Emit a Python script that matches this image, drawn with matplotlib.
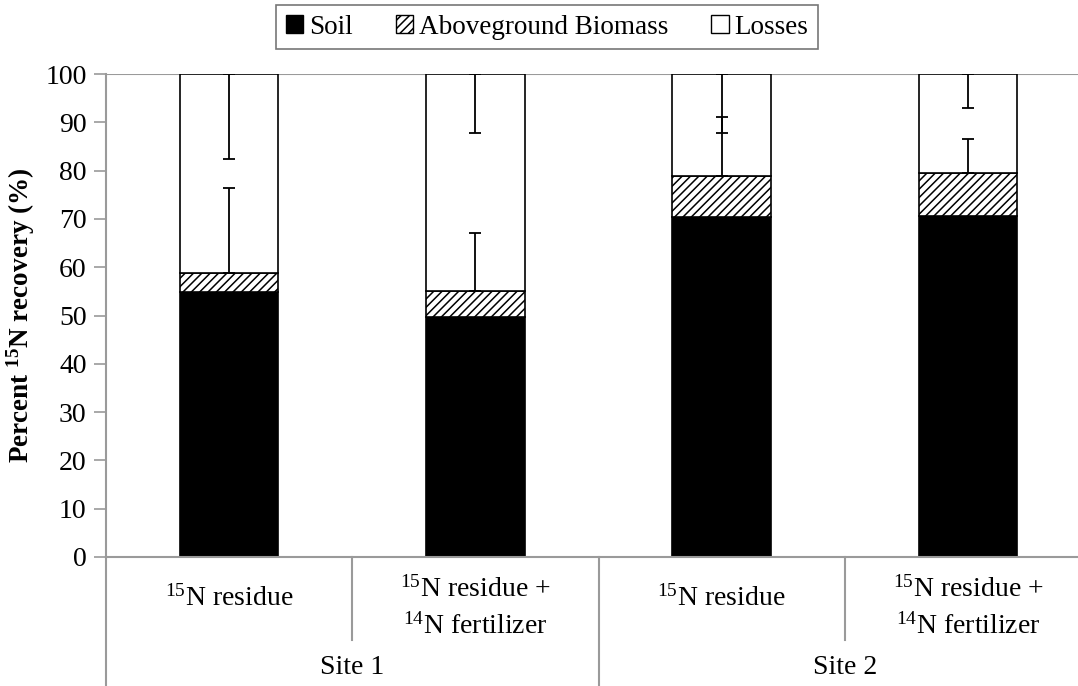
import numpy as np
import matplotlib
matplotlib.use("Agg")
import matplotlib.pyplot as plt
from matplotlib.patches import Patch

plt.rcParams['font.family'] = ['Liberation Serif', 'DejaVu Serif']
plt.rcParams['mathtext.fontset'] = 'custom'
plt.rcParams['mathtext.rm'] = 'Liberation Serif'
plt.rcParams['mathtext.bf'] = 'Liberation Serif:bold'
plt.rcParams['hatch.linewidth'] = 1.1

# data (percent 15N recovery)
treatments = [r'$\mathregular{^{15}}$N residue',
              r'$\mathregular{^{15}}$N residue +' + '\n' + r'$\mathregular{^{14}}$N fertilizer',
              r'$\mathregular{^{15}}$N residue',
              r'$\mathregular{^{15}}$N residue +' + '\n' + r'$\mathregular{^{14}}$N fertilizer']
sites = ['Site 1', 'Site 2']
soil = np.array([54.8, 49.7, 70.3, 70.5])
biomass = np.array([4.1, 5.4, 8.6, 9.0])
losses = 100 - soil - biomass
biomass_err = np.array([17.4, 12.0, 12.1, 7.0])   # up from soil+biomass
losses_err = np.array([17.6, 12.3, 12.3, 7.0])    # down from 100

gray = '#9a9a9a'
fig = plt.figure(figsize=(10.78, 6.86), dpi=100)
ax = fig.add_axes([106/1078, (686-557)/686, (1091-106)/1078, (557-74)/686])

x = np.arange(len(soil))
w = 0.4
ax.bar(x, soil, w, color='black', edgecolor='black', lw=1.2, zorder=2)
ax.bar(x, biomass, w, bottom=soil, color='white', edgecolor='black', hatch='////', lw=1.2, zorder=2)
ax.bar(x, losses, w, bottom=soil + biomass, color='white', edgecolor='black', lw=1.2, zorder=2)

ax.errorbar(x, soil + biomass, yerr=[np.zeros(4), biomass_err], fmt='none',
            ecolor='black', elinewidth=1.3, capsize=4, capthick=1.3, zorder=3)
ax.errorbar(x, np.full(4, 100.0), yerr=[losses_err, np.zeros(4)], fmt='none',
            ecolor='black', elinewidth=1.3, capsize=4, capthick=1.3, zorder=3)

ax.set_xlim(-0.5, 3.5)
ax.set_ylim(0, 100)
ax.set_yticks(np.arange(0, 101, 10))
ax.tick_params(axis='y', labelsize=20, color=gray, length=9, width=1.2, pad=5)
ax.set_xticks([])
ax.axhline(100, color=gray, lw=1.5, zorder=1)
for s in ['top', 'right']:
    ax.spines[s].set_visible(False)
for s in ['left', 'bottom']:
    ax.spines[s].set_color(gray)
    ax.spines[s].set_linewidth(1.5)

ax.set_ylabel(r'Percent $\mathbf{^{15}}$N recovery (%)', fontsize=19.5, fontweight='bold', labelpad=6)

# category axis below
tr = ax.get_xaxis_transform()
for i, lab in enumerate(treatments):
    ypos = -0.106 if '\n' in lab else -0.085
    ax.text(i, ypos, lab, transform=tr, ha='center', va='center', fontsize=20, linespacing=1.5)
for i, s in enumerate(sites):
    ax.text(2 * i + 0.5, -0.228, s, transform=tr, ha='center', va='center', fontsize=20)
for xd in [0.5, 2.5]:
    ax.plot([xd, xd], [0, -0.172], transform=tr, color=gray, lw=1.5, clip_on=False)
for xd in [-0.5, 1.5]:
    ax.plot([xd, xd], [0, -0.27], transform=tr, color=gray, lw=1.5, clip_on=False)

handles = [Patch(facecolor='black', edgecolor='black', label='Soil'),
           Patch(facecolor='white', edgecolor='black', hatch='////', label='Aboveground Biomass'),
           Patch(facecolor='white', edgecolor='black', label='Losses')]
leg = fig.legend(handles=handles, loc='center', bbox_to_anchor=(547/1078, 1 - 27/686), ncol=3,
                 fontsize=19.5, handlelength=0.65, handleheight=0.65, handletextpad=0.2,
                 columnspacing=1.6, fancybox=False, edgecolor='#555555', borderpad=0.35)
leg.get_frame().set_linewidth(1.2)

fig.savefig('out.png', dpi=100)
